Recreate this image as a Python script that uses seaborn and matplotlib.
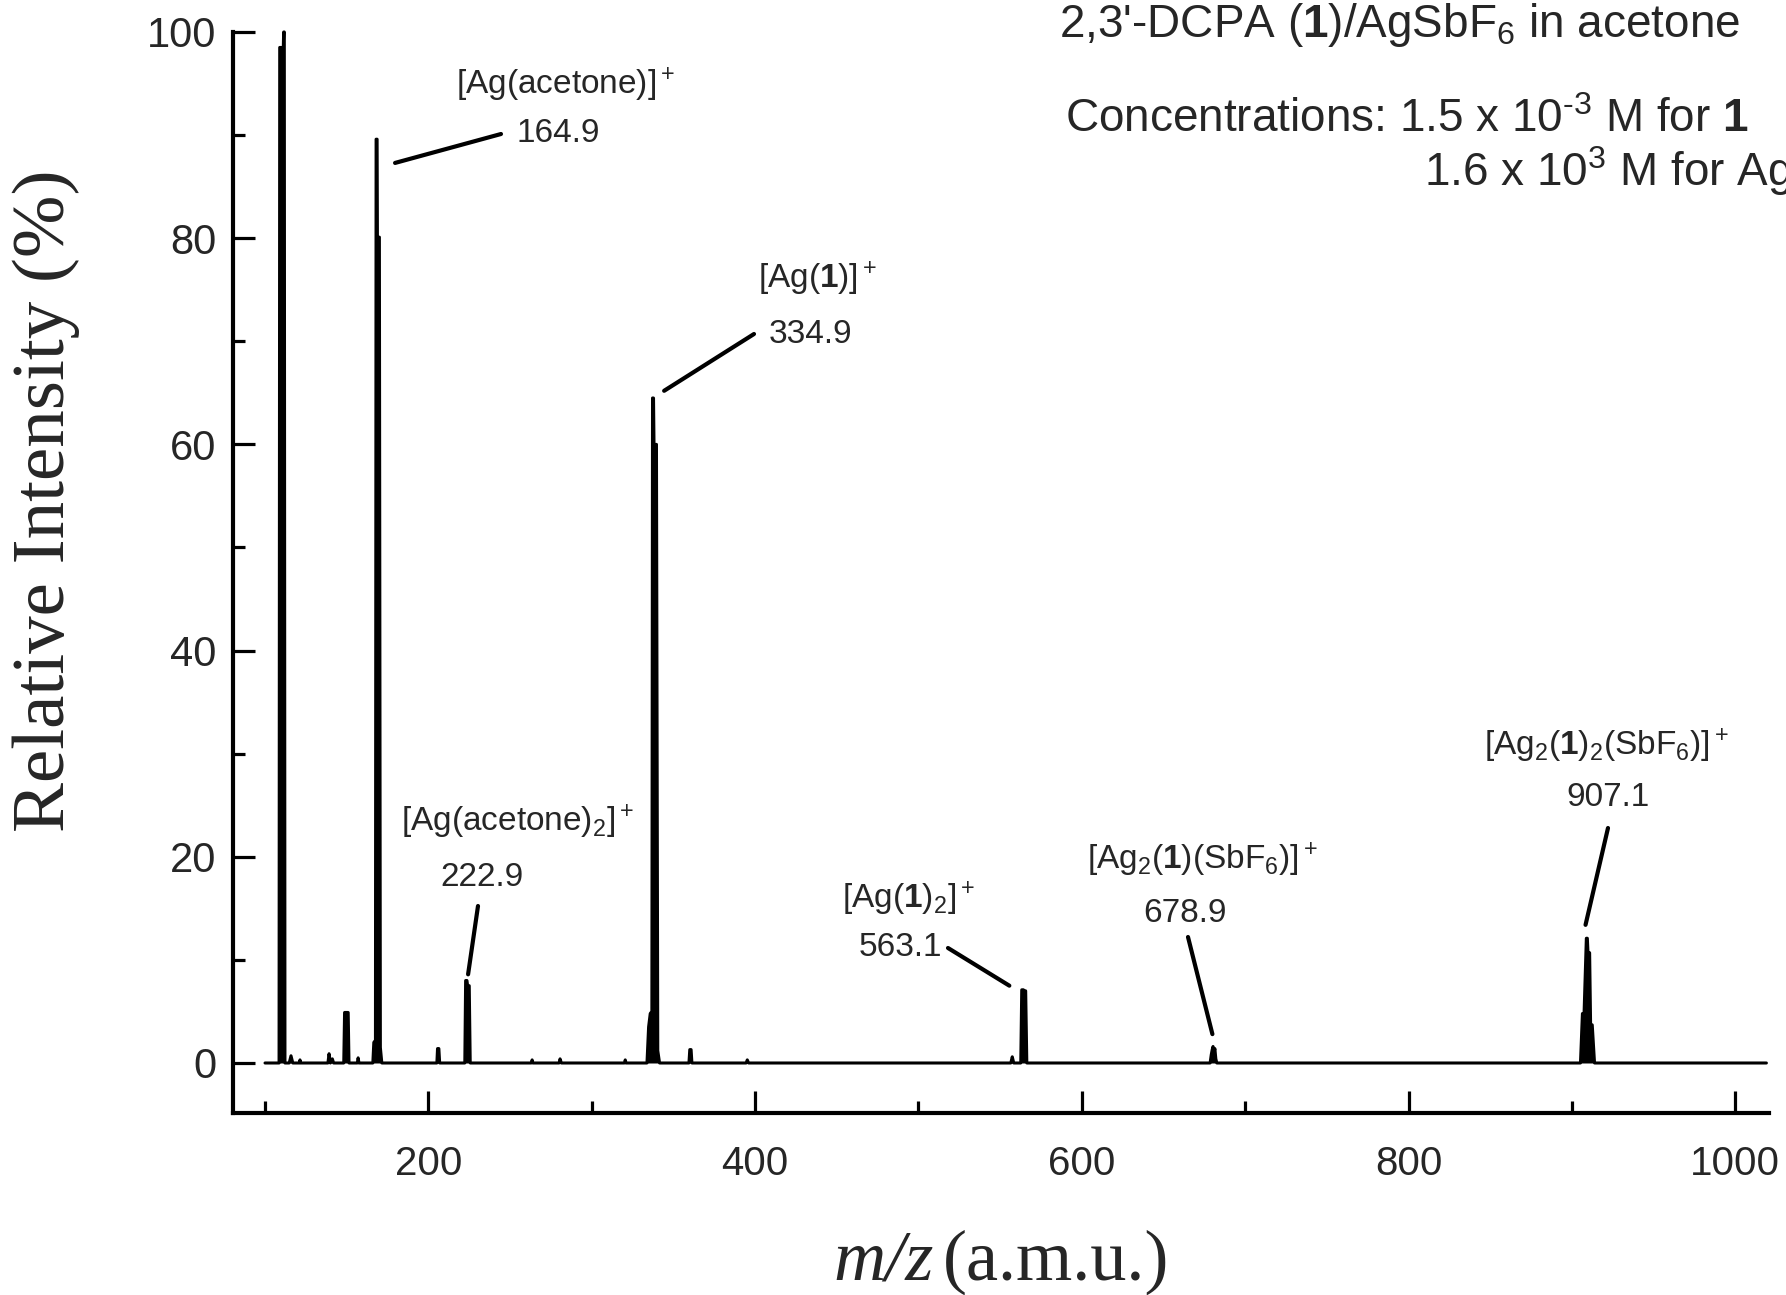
import pandas as pd
import matplotlib.pyplot as plt
import seaborn as sns

# ESI mass spectrum, 2,3'-DCPA (1) / AgSbF6 in acetone
# profile points (m/z, relative intensity %)
trace_mz = [
    100.0,
    108.6, 109.0, 111.2, 111.4, 111.8, 112.2,            # Ag+
    114.8, 115.9, 117.0, 121.0, 121.4, 121.8,
    138.5, 139.2, 140.0, 141.2, 142.0,
    148.2, 148.7, 150.9, 151.4, 156.5, 157.0, 157.5,
    166.0, 166.6, 167.6, 168.0, 168.6, 168.8, 170.0, 170.6, 171.5,   # 164.9
    205.2, 205.6, 206.4, 206.9,
    222.3, 222.8, 223.6, 224.0, 225.0, 225.6,            # 222.9
    263.0, 263.5, 264.0, 280.0, 280.6, 281.4, 320.0, 320.5, 321.0,
    333.8, 334.8, 335.8, 336.8, 337.2, 337.8, 338.1, 339.6, 340.4, 341.5,   # 334.9
    359.5, 360.0, 360.8, 361.3, 394.5, 395.2, 396.0,
    556.5, 557.4, 558.3,
    562.6, 563.2, 564.2, 564.6, 565.6, 566.3,            # 563.1
    678.5, 679.2, 679.8, 680.3, 680.9, 681.4, 682.0, 682.6,   # 678.9
    905.2, 906.4, 907.4, 908.8, 909.4, 909.8, 910.8, 911.4, 912.4, 913.8,   # 907.1
    1019.0,
]
trace_int = [
    0.0,
    0.0, 98.5, 98.5, 100.0, 100.0, 0.0,
    0.0, 0.7, 0.0, 0.0, 0.3, 0.0,
    0.0, 0.9, 0.0, 0.4, 0.0,
    0.0, 4.9, 4.9, 0.0, 0.0, 0.5, 0.0,
    0.0, 2.0, 2.2, 89.6, 89.6, 80.1, 80.1, 1.5, 0.0,
    0.0, 1.4, 1.4, 0.0,
    0.0, 8.0, 8.0, 7.5, 7.5, 0.0,
    0.0, 0.3, 0.0, 0.0, 0.4, 0.0, 0.0, 0.3, 0.0,
    0.0, 3.5, 4.8, 5.0, 64.5, 64.5, 60.0, 60.0, 1.2, 0.0,
    0.0, 1.3, 1.3, 0.0, 0.0, 0.3, 0.0,
    0.0, 0.6, 0.0,
    0.0, 7.1, 7.1, 7.0, 7.0, 0.0,
    0.0, 0.8, 1.3, 1.6, 1.0, 1.4, 0.4, 0.0,
    0.0, 4.8, 4.8, 12.1, 12.1, 10.7, 10.7, 3.7, 3.7, 0.0,
    0.0,
]

# assigned ions
ion_names = [
    "[Ag(acetone)]$^+$",
    "[Ag($\\mathbf{1}$)]$^+$",
    "[Ag(acetone)$_2$]$^+$",
    "[Ag($\\mathbf{1}$)$_2$]$^+$",
    "[Ag$_2$($\\mathbf{1}$)(SbF$_6$)]$^+$",
    "[Ag$_2$($\\mathbf{1}$)$_2$(SbF$_6$)]$^+$",
]
ion_mz = ["164.9", "334.9", "222.9", "563.1", "678.9", "907.1"]
# where each leader line touches the spectrum (m/z, %)
ion_tip_mz = [179.6, 344.3, 224.3, 555.6, 679.9, 908.3]
ion_tip_int = [87.3, 65.2, 8.6, 7.5, 2.8, 13.4]

xticks_major = [200, 400, 600, 800, 1000]
xticks_minor = [100, 300, 500, 700, 900]
yticks_major = [0, 20, 40, 60, 80, 100]
yticks_minor = [10, 30, 50, 70, 90]

W, H = 1786, 1295


def fxy(px, py):
    return px / W, 1 - py / H


sns.set_style("ticks")
plt.rcParams['font.family'] = ['Liberation Sans', 'DejaVu Sans']
plt.rcParams['mathtext.fontset'] = 'custom'
plt.rcParams['mathtext.rm'] = 'Liberation Sans'
plt.rcParams['mathtext.it'] = 'Liberation Sans:italic'
plt.rcParams['mathtext.bf'] = 'Liberation Sans:bold'

fig = plt.figure(figsize=(W / 100, H / 100), dpi=100)
ax = fig.add_axes([233 / W, 1 - 1113 / H, (1769 - 233) / W, (1113 - 32) / H])

df = pd.DataFrame({'mz': trace_mz, 'intensity': trace_int})
ax.fill_between(df['mz'], df['intensity'], 0, color='black', lw=0, clip_on=False)
sns.lineplot(data=df, x='mz', y='intensity', estimator=None, sort=False,
             color='black', lw=2.2, ax=ax, clip_on=False)

ax.set_xlim(80.4, 1020.6)
ax.set_ylim(-4.85, 100)
ax.set_xticks(xticks_major)
ax.set_xticks(xticks_minor, minor=True)
ax.set_yticks(yticks_major)
ax.set_yticks(yticks_minor, minor=True)
ax.tick_params(axis='both', which='both', direction='in', width=2.3, color='black')
ax.tick_params(axis='x', which='major', length=16, pad=23, labelsize=29)
ax.tick_params(axis='x', which='minor', length=8.5)
ax.tick_params(axis='y', which='major', length=16, pad=12, labelsize=30)
ax.tick_params(axis='y', which='minor', length=8.5)
for side in ['top', 'right']:
    ax.spines[side].set_visible(False)
for side in ['left', 'bottom']:
    ax.spines[side].set_linewidth(3)
    ax.spines[side].set_color('black')
ax.set_xlabel('')
ax.set_ylabel('')

# axis titles (serif, as in the scan)
fig.text(*fxy(46, 501), "Relative Intensity (%)", rotation=90, ha='center', va='center',
         family='Liberation Serif', fontsize=54)
fig.text(*fxy(934, 1262), "m/z", ha='right', va='center', family='Liberation Serif',
         style='italic', fontsize=52)
fig.text(*fxy(943, 1262), "(a.m.u.)", ha='left', va='center', family='Liberation Serif',
         fontsize=52)

# peak labels: name, m/z value and the leader line start (pixels)
name_pos = [(566, 85), (817, 279), (518, 822), (909, 899), (1202, 860), (1606, 746)]
value_pos = [(558, 134), (811, 334), (482, 877), (900, 948), (1185, 913), (1608, 798)]
line_start = [(501, 134), (754, 334), (478, 906), (948, 948), (1188, 937), (1608, 828)]
for i in range(len(ion_names)):
    fig.text(*fxy(*name_pos[i]), ion_names[i], ha='center', va='center', fontsize=24)
    fig.text(*fxy(*value_pos[i]), ion_mz[i], ha='center', va='center', fontsize=24)
    ax.annotate('', xy=(ion_tip_mz[i], ion_tip_int[i]), xycoords='data',
                xytext=fxy(*line_start[i]), textcoords='figure fraction',
                arrowprops=dict(arrowstyle='-', lw=3, color='black', shrinkA=0, shrinkB=0),
                annotation_clip=False)

# sample description, top right (runs off the page in the scan)
fig.text(*fxy(1059, 25), "2,3'-DCPA ($\\mathbf{1}$)/AgSbF$_6$ in acetone",
         ha='left', va='center', fontsize=33)
fig.text(*fxy(1065, 120), "Concentrations: 1.5 x 10$^{\\text{-}3}$ M for $\\mathbf{1}$",
         ha='left', va='center', fontsize=33)
fig.text(*fxy(1424, 171), "1.6 x 10$^{3}$ M for AgSbF$_6$",
         ha='left', va='center', fontsize=33)

fig.savefig('out.png', dpi=100, facecolor='white')
